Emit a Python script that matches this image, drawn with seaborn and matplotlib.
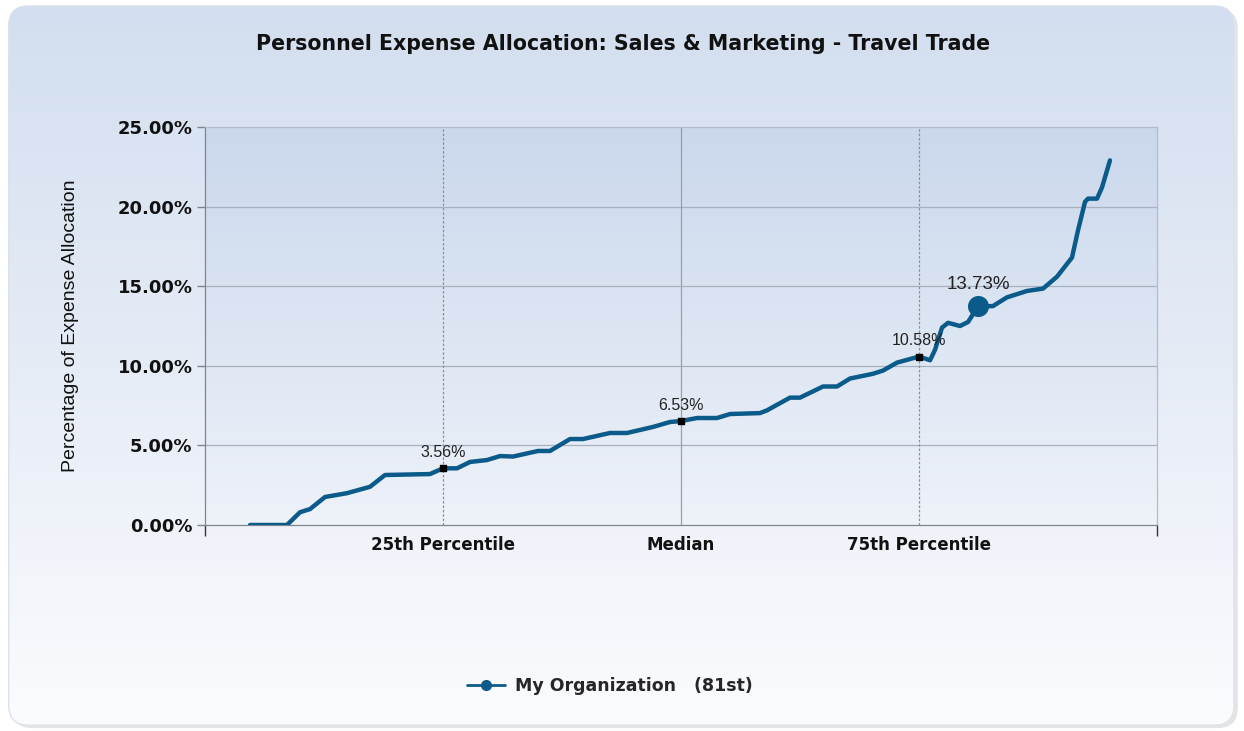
import numpy as np
import pandas as pd
import matplotlib
matplotlib.use("Agg")
import matplotlib.pyplot as plt
from matplotlib.patches import FancyBboxPatch
from matplotlib.lines import Line2D
from matplotlib.colors import LinearSegmentedColormap
import seaborn as sns

# ---- data ----
percentile = [4.73, 8.61, 9.98, 11.03, 12.61, 14.92, 17.33, 18.91, 23.63, 25.0,
              26.47, 27.84, 29.62, 30.99, 32.35, 34.98, 36.24, 38.34, 39.71, 42.54,
              44.33, 47.06, 48.85, 50.0, 51.68, 53.78, 55.15, 58.30, 59.03, 61.45,
              62.50, 64.92, 66.39, 67.75, 70.17, 71.22, 72.69, 75.0, 76.16, 76.68,
              77.42, 78.05, 79.31, 80.15, 81.2, 82.77, 84.24, 86.34, 88.03, 89.50,
              91.07, 91.70, 92.44, 92.75, 93.70, 94.22, 95.06]
allocation = [0.0, 0.0, 0.8, 1.0, 1.76, 2.0, 2.4, 3.14, 3.2, 3.56,
              3.56, 3.96, 4.08, 4.33, 4.3, 4.65, 4.65, 5.4, 5.4, 5.78,
              5.78, 6.16, 6.47, 6.53, 6.72, 6.72, 6.97, 7.03, 7.2, 8.0,
              8.0, 8.7, 8.7, 9.2, 9.5, 9.7, 10.2, 10.58, 10.35, 11.0,
              12.4, 12.7, 12.5, 12.75, 13.73, 13.75, 14.3, 14.7, 14.85, 15.6,
              16.8, 18.5, 20.3, 20.5, 20.5, 21.2, 22.9]

marker_pct = [25.0, 50.0, 75.0]
marker_val = [3.56, 6.53, 10.58]
marker_txt = ["3.56%", "6.53%", "10.58%"]

org_pct = 81.2
org_val = 13.73
org_txt = "13.73%"

tick_pos = [25, 50, 75]
tick_labels = ["25th Percentile", "Median", "75th Percentile"]
y_ticks = [0, 5, 10, 15, 20, 25]

line_color = "#0b5b8a"

df = pd.DataFrame({"percentile": percentile, "allocation": allocation})

sns.set_theme(style="white")
plt.rcParams['font.family'] = ['DejaVu Sans']

fig = plt.figure(figsize=(12.44, 7.31), dpi=100)
fig.patch.set_facecolor("white")

# figure background: rounded box with vertical gradient
bg = fig.add_axes([0, 0, 1, 1], zorder=-5)
bg.set_axis_off()
bg.set_xlim(0, 1)
bg.set_ylim(0, 1)
shadow = FancyBboxPatch((0.010, 0.004), 0.985, 0.984,
                        boxstyle="round,pad=0,rounding_size=0.016",
                        transform=bg.transAxes, facecolor="#e4e4e4",
                        edgecolor="none", mutation_aspect=1244 / 731, zorder=-3)
bg.add_patch(shadow)
box = FancyBboxPatch((0.007, 0.008), 0.985, 0.984,
                     boxstyle="round,pad=0,rounding_size=0.016",
                     transform=bg.transAxes, facecolor="none",
                     edgecolor="#dde2ea", linewidth=1, mutation_aspect=1244 / 731,
                     zorder=-1)
bg.add_patch(box)
grad = np.linspace(0, 1, 256).reshape(-1, 1)
fig_cmap = LinearSegmentedColormap.from_list("figbg", ["#fbfcfe", "#e6ecf6", "#d2deef"])
im = bg.imshow(grad, cmap=fig_cmap, origin="lower", extent=[0, 1, 0, 1],
               aspect="auto", zorder=-2)
im.set_clip_path(box)

# main axes
ax = fig.add_axes([205 / 1244, 1 - 525 / 731, 952 / 1244, 398 / 731])
ax.set_xlim(0, 100)
ax.set_ylim(0, 25)
ax_cmap = LinearSegmentedColormap.from_list("axbg", ["#eef2f9", "#cad8ec"])
ax.imshow(grad, cmap=ax_cmap, origin="lower", extent=[0, 100, 0, 25],
          aspect="auto", zorder=0)
ax.set_facecolor("none")

# grid lines
for v in [5, 10, 15, 20]:
    ax.axhline(v, color="#a9b1bf", lw=0.9, zorder=1)
ax.axvline(25, color="#8a8f98", lw=0.9, ls=(0, (2, 1.5)), zorder=1)
ax.axvline(50, color="#9aa0aa", lw=0.9, zorder=1)
ax.axvline(75, color="#8a8f98", lw=0.9, ls=(0, (2, 1.5)), zorder=1)

sns.lineplot(data=df, x="percentile", y="allocation", ax=ax, color=line_color,
             linewidth=3.2, zorder=3, legend=False)
for ln in ax.lines:
    ln.set_solid_joinstyle("round")
    ln.set_solid_capstyle("round")

ax.scatter(marker_pct, marker_val, marker="s", s=14, color="black", zorder=4)
for x, y, t in zip(marker_pct, marker_val, marker_txt):
    ax.annotate(t, (x, y), xytext=(0, 6), textcoords="offset points",
                ha="center", va="bottom", fontsize=11.5, color="#222222",
                family="Liberation Sans")
ax.scatter([org_pct], [org_val], s=200, color=line_color, zorder=5)
ax.annotate(org_txt, (org_pct, org_val), xytext=(0, 10), textcoords="offset points",
            ha="center", va="bottom", fontsize=13.5, color="#222222",
            family="Liberation Sans")

# spines and ticks
for side in ["left", "top", "right", "bottom"]:
    ax.spines[side].set_visible(True)
    ax.spines[side].set_linewidth(0.9)
ax.spines["left"].set_color("#7f8590")
ax.spines["bottom"].set_color("#7f8590")
ax.spines["top"].set_color("#b4bccb")
ax.spines["right"].set_color("#b4bccb")

ax.set_yticks(y_ticks)
ax.set_yticklabels([f"{v:.2f}%" for v in y_ticks], fontsize=13,
                   fontweight="bold", color="#111111")
ax.tick_params(axis="y", direction="out", length=6, width=1, color="#7f8590", pad=3,
               left=True)
ax.set_xticks(tick_pos)
ax.set_xticklabels(tick_labels, fontsize=12, fontweight="bold", color="#111111")
ax.tick_params(axis="x", length=0, pad=8, bottom=True)
ax.set_xticks([0, 100], minor=True)
ax.tick_params(axis="x", which="minor", direction="out", length=8, width=1,
               color="#333333", bottom=True)

ax.set_xlabel("")
ax.set_ylabel("Percentage of Expense Allocation", fontsize=14, color="#111111",
              family="Liberation Sans", labelpad=28)
ax.grid(False)

fig.text(623 / 1244, 1 - 44 / 731,
         "Personnel Expense Allocation: Sales & Marketing - Travel Trade",
         ha="center", va="center", fontsize=14.8, fontweight="bold", color="#111111")

handle = Line2D([], [], color=line_color, lw=2, marker="o", markersize=7)
fig.legend([handle], ["My Organization   (81st)"], loc="center",
           bbox_to_anchor=(610 / 1244, 1 - 686 / 731), frameon=False,
           prop={"weight": "bold", "size": 12.5}, handlelength=2.2,
           handletextpad=0.6)

fig.savefig("out.png", dpi=100)
